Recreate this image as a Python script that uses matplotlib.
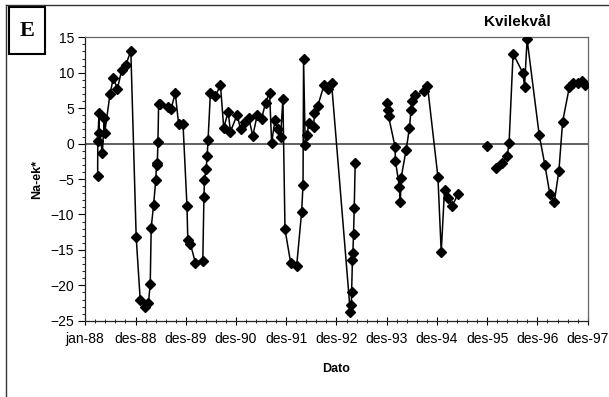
#!/usr/bin/env python

import numpy as np
import matplotlib
matplotlib.use('Agg')
import matplotlib.pyplot as plt
import matplotlib.ticker as plticker
from matplotlib.patches import Rectangle

FONT      = 'Liberation Sans'
FONT_SIZE = 10
nan       = np.nan

# days counted from 1 Jan 1988 (Excel date axis, 365-day major unit)
days = [90, 91, 100, 102, 124, 139, 141, 180, 204, 233, 265, 295, 331,
        370, 399, 435, 459, 472, 479, 496, 512, 518, 523, 528, 533, 545,
        598, 623, 654, 678, 710, 739, 745, 763, 800, 854, 862, 866, 878,
        885, 892, 909, 946, 982, 1006, 1038, 1055, 1104, 1128, 1159, 1188,
        1217, 1250, 1281, 1310, 1339, 1354, 1378, 1403, 1419, 1436, 1451,
        1492, 1536, 1572, 1582, 1586, 1598, 1609, 1626, 1660, 1664, 1689,
        1735, 1760, 1789, 1925, 1933, 1935, 1941, 1944, 1949, 1954, 1961,
        2000,
        2195, 2199, 2203, 2251, 2253, 2282, 2289, 2294, 2331, 2355, 2367,
        2374, 2396, 2460, 2486, 2562, 2586, 2610, 2635, 2666, 2708,
        2800,
        2921,
        2950,
        2982, 3030, 3065, 3079, 3108, 3181, 3191, 3210, 3298, 3339, 3375,
        3407, 3441, 3468, 3517, 3546, 3582, 3606, 3630]

naek = [-4.5, 0.3, 4.3, 1.5, -1.3, 3.6, 1.5, 7.0, 9.3, 7.7, 10.4, 11.1, 13.1,
        -13.2, -22.0, -23.1, -22.5, -19.8, -11.9, -8.7, -5.2, -2.8, -3.0, 0.2, 5.6, 5.6,
        5.2, 4.9, 7.1, 2.8, 2.8, -8.8, -13.6, -14.1, -16.8, -16.5, -7.6, -5.1, -3.6,
        -1.8, 0.5, 7.1, 6.7, 8.3, 2.2, 4.5, 1.7, 4.1, 2.0, 3.1, 3.6,
        1.1, 4.1, 3.5, 5.8, 7.2, 0.1, 3.3, 2.0, 1.0, 6.3, -12.1,
        -16.8, -17.2, -9.6, -5.8, 11.9, -0.2, 1.2, 2.9, 2.4, 4.3, 5.3,
        8.3, 7.7, 8.6, -23.7, -22.8, -20.9, -16.4, -15.5, -12.7, -9.1, -2.8,
        nan,
        5.7, 4.8, 3.9, -0.5, -2.4, -6.1, -8.3, -4.9, -0.9, 2.2, 4.8,
        6.0, 6.8, 7.4, 8.2, -4.7, -15.3, -6.5, -7.7, -8.8, -7.1,
        nan,
        -0.3,
        nan,
        -3.5, -2.7, -1.8, 0.1, 12.7, 9.9, 8.0, 14.7, 1.2, -3.0, -7.1,
        -8.3, -3.8, 3.1, 8.0, 8.5, 8.6, 8.8, 8.3]

tickLabels = ['jan-88', 'des-88', 'des-89', 'des-90', 'des-91', 'des-92',
              'des-93', 'des-94', 'des-95', 'des-96', 'des-97']


figure = plt.figure(figsize=(6.09, 3.97), dpi=100)
ax     = figure.add_axes([0.140, 0.192, 0.825, 0.714])

ax.axhline(0, color='#555555', linewidth=1.3, zorder=1)
ax.plot(days, naek, color='black', linewidth=1.1, marker='D', markersize=5,
        markerfacecolor='black', markeredgecolor='black', zorder=3)

ax.set_xlim(0, 3650)
ax.set_ylim(-25, 15)
ax.xaxis.set_major_locator(plticker.FixedLocator([365 * i for i in range(len(tickLabels))]))
ax.xaxis.set_major_formatter(plticker.FixedFormatter(tickLabels))
ax.xaxis.set_minor_locator(plticker.MultipleLocator(73))
ax.yaxis.set_major_locator(plticker.MultipleLocator(5))
ax.yaxis.set_minor_locator(plticker.MultipleLocator(1))

ax.tick_params(axis='x', which='major', direction='inout', length=6, width=0.8, pad=5)
ax.tick_params(axis='x', which='minor', direction='inout', length=3, width=0.6)
ax.tick_params(axis='y', which='major', direction='out', length=5, width=0.8, pad=3)
ax.tick_params(axis='y', which='minor', direction='out', length=2.5, width=0.6)

for label in ax.get_xticklabels() + ax.get_yticklabels():
    label.set_fontfamily(FONT)
    label.set_fontsize(FONT_SIZE)

for side in ('left', 'bottom'):
    ax.spines[side].set_color('#222222')
    ax.spines[side].set_linewidth(0.9)
for side in ('top', 'right'):
    ax.spines[side].set_color('#666666')
    ax.spines[side].set_linewidth(0.9)

ax.set_xlabel('Dato', fontfamily=FONT, fontsize=9, fontweight='bold', labelpad=12)
ax.set_ylabel('Na-ek*', fontfamily=FONT, fontsize=9, fontweight='bold', labelpad=5)

figure.text(517 / 609, 1 - 21.7 / 397, 'Kvilekvål', fontfamily=FONT, fontsize=11,
            fontweight='bold', ha='center', va='center')

# panel letter box
figure.patches.append(Rectangle((9 / 609, 1 - 54 / 397), 36 / 609, 47 / 397,
                                transform=figure.transFigure, fill=False,
                                edgecolor='black', linewidth=1.5))
figure.text(27 / 609, 1 - 30.5 / 397, 'E', fontfamily='Liberation Serif', fontsize=16,
            fontweight='bold', ha='center', va='center')

# outer frame
figure.lines.append(plt.Line2D([6 / 609, 6 / 609], [0, 1 - 5 / 397],
                               transform=figure.transFigure, color='#333333', linewidth=1.0))
figure.lines.append(plt.Line2D([6 / 609, 1], [1 - 5 / 397, 1 - 5 / 397],
                               transform=figure.transFigure, color='#333333', linewidth=1.0))

figure.savefig('out.png', dpi=100)
plt.close(figure)
